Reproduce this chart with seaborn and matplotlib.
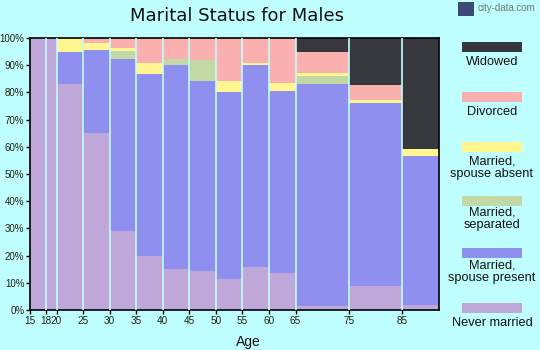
import numpy as np
import pandas as pd
import matplotlib
matplotlib.use("Agg")
import matplotlib.pyplot as plt
import seaborn as sns
from matplotlib.patches import Rectangle

# ---- data ----
age_edges = [15, 18, 20, 25, 30, 35, 40, 45, 50, 55, 60, 65, 75, 85, 92]
tick_ages = [15, 18, 20, 25, 30, 35, 40, 45, 50, 55, 60, 65, 75, 85]
statuses = ["Never married", "Married, spouse present", "Married, separated",
            "Married, spouse absent", "Divorced", "Widowed"]
never_married   = [100, 100, 83.1, 65.1, 29.0, 19.9, 15.1, 14.3, 11.4, 15.8, 13.6, 1.5, 8.8, 1.8]
spouse_present  = [0, 0, 11.8, 30.5, 63.3, 66.9, 75.0, 69.9, 68.7, 74.3, 66.9, 81.6, 67.3, 54.8]
separated       = [0, 0, 0, 0, 2.9, 0, 2.2, 7.7, 0, 0, 0, 2.9, 0, 0]
spouse_absent   = [0, 0, 5.1, 2.6, 1.1, 4.0, 0, 0, 4.1, 0.7, 3.0, 1.1, 1.1, 2.6]
divorced        = [0, 0, 0, 1.8, 3.7, 9.2, 7.7, 8.1, 15.8, 9.2, 16.5, 7.8, 5.5, 0]
widowed         = [0, 0, 0, 0, 0, 0, 0, 0, 0, 0, 0, 5.1, 17.3, 40.8]
colors = ["#bfa8d9", "#8f8ff0", "#c2d9a6", "#fff68f", "#f9b0ae", "#37383d"]
legend_labels = ["Widowed", "Divorced", "Married,\nspouse absent", "Married,\nseparated",
                 "Married,\nspouse present", "Never married"]

BG = "#c0ffff"
series = [never_married, spouse_present, separated, spouse_absent, divorced, widowed]
mids = [(a + b) / 2 for a, b in zip(age_edges[:-1], age_edges[1:])]
rows = []
for st, vals in zip(statuses, series):
    for m, v in zip(mids, vals):
        rows.append({"age": m, "status": st, "pct": v})
df = pd.DataFrame(rows)

sns.set_theme(style="white")
plt.rcParams["font.family"] = ["Liberation Sans", "DejaVu Sans"]

fig = plt.figure(figsize=(5.4, 3.5), dpi=100, facecolor=BG)
ax = fig.add_axes([30/540, 40/350, 409/540, 272/350])
ax.set_facecolor(BG)

sns.histplot(data=df, x="age", weights="pct", hue="status", hue_order=statuses[::-1],
             palette=dict(zip(statuses, colors)), bins=age_edges, multiple="fill",
             stat="count", element="bars", alpha=1, linewidth=0, legend=False,
             shrink=1, ax=ax)

for e in age_edges[1:-1]:
    ax.axvline(e, color=BG, lw=1.2, zorder=5)

ax.set_xlim(age_edges[0], age_edges[-1])
ax.set_ylim(0, 1)
ax.set_xticks(tick_ages)
ax.set_xticklabels([str(t) for t in tick_ages], fontsize=7.2, color="#222211")
ax.set_yticks(np.arange(0, 1.01, 0.1))
ax.set_yticklabels([f"{int(round(v*100))}%" for v in np.arange(0, 1.01, 0.1)],
                   fontsize=7.0, color="#222211")
ax.tick_params(axis="both", length=3, width=1, color="black", pad=1, direction="out")
ax.tick_params(axis="x", bottom=True)
ax.tick_params(axis="y", left=True)
for s in ax.spines.values():
    s.set_color("black")
    s.set_linewidth(1.2)
ax.set_xlabel("Age", fontsize=10, color="#111111")
ax.xaxis.set_label_coords((248 - 30) / 409, -(342 - 310) / 272)
ax.xaxis.label.set_va("center")
ax.set_ylabel("")

fig.text(237/540, 1 - 16/350, "Marital Status for Males", ha="center", va="center",
         fontsize=13, color="#111111", family="DejaVu Sans")
fig.patches.append(Rectangle((458/540, 1 - 16/350), 16/540, 14/350,
                             transform=fig.transFigure, facecolor="#3c4a78",
                             edgecolor="none"))
fig.text(535/540, 1 - 8/350, "city-data.com", ha="right", va="center",
         fontsize=7.0, color="#6a7878")

# legend
patch_tops = [42, 92, 142, 196, 248, 303]
label_ys = [62, 112, 168, 219, 272, 323]
for lab, col, pt, ly in zip(legend_labels, colors[::-1], patch_tops, label_ys):
    fig.patches.append(Rectangle((462/540, 1 - (pt + 10)/350), 60/540, 10/350,
                                 transform=fig.transFigure, facecolor=col,
                                 edgecolor="none"))
    fig.text(492/540, 1 - ly/350, lab, ha="center", va="center", fontsize=9.2,
             color="#111111", linespacing=1.0)

fig.savefig("out.png", dpi=100, facecolor=BG)
